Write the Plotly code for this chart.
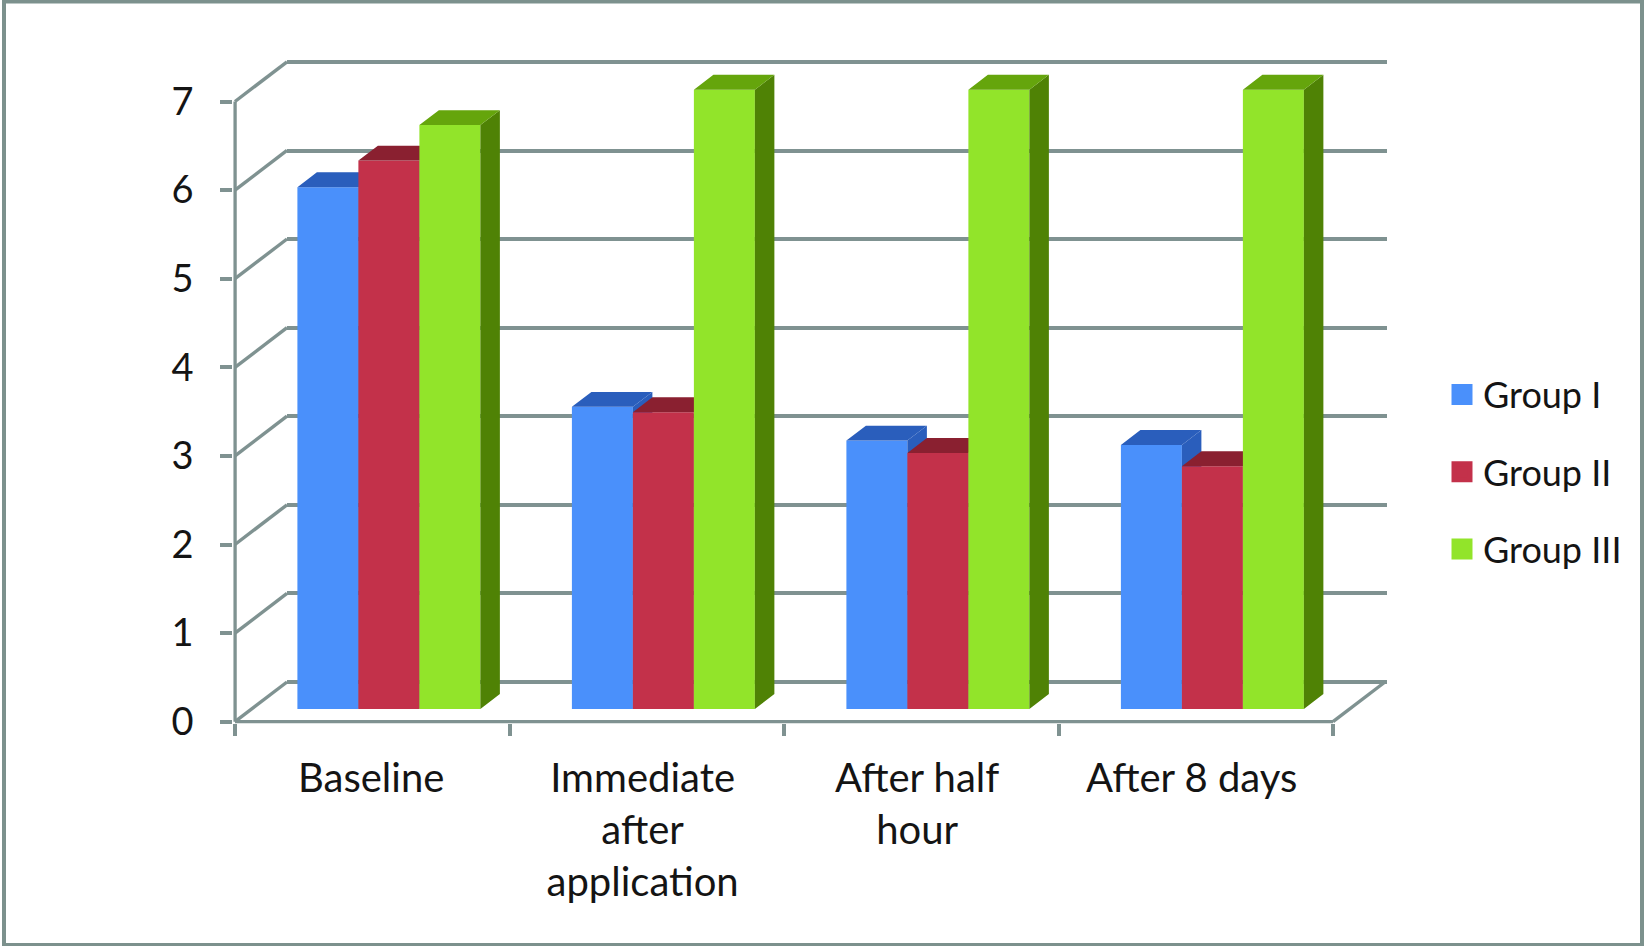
import plotly.graph_objects as go

categories = ["Baseline", "Immediate<br>after<br>application", "After half<br>hour", "After 8 days"]
series_names = ["Group I", "Group II", "Group III"]
group_i = [5.89, 3.41, 3.03, 2.98]
group_ii = [6.19, 3.35, 2.89, 2.74]
group_iii = [6.59, 6.99, 6.99, 6.99]
y_ticks = [0, 1, 2, 3, 4, 5, 6, 7]

front_colors = ["#4a90fb", "#c3314a", "#92e42a"]
top_colors = ["#2a5ebc", "#8a2030", "#65a50c"]
side_colors = ["#2a5ebc", "#8a2030", "#4f8205"]
AXIS = "#7f9291"
TEXT = "#141414"
FONT = "Lato"

W, H = 1644, 946
FX0, FX1, FY0, FY1 = 235, 1333, 721.7, 101.5   # front plane in pixels
BX0, BX1, BY0, BY1 = 287, 1387, 682, 62        # back wall in pixels
UX = (FX1 - FX0) / 4
UY = (FY0 - FY1) / 7
DEPTH_X = (BX0 - FX0) / UX
DEPTH_Y = (FY0 - BY0) / UY
BAR_FRONT = 0.32
BAR_BACK = 0.695
BAR_W = 0.2222

# Front subplot area is wider than the front plane so the depth faces fit inside it
AREA_L, AREA_R, AREA_B, AREA_T = FX0 - 1.75, 1400, FY0 + 1.75, 50
RANGE_X = [(AREA_L - FX0) / UX, (AREA_R - FX0) / UX]
RANGE_Y = [(FY0 - AREA_B) / UY, (FY0 - AREA_T) / UY]
# Back wall area: a little taller than 0..7 so the first and last grid lines show
BACK_B, BACK_T = BY0 + 4, BY1 - 4
BACK_UY = (BY0 - BY1) / 7
BACK_RANGE_Y = [(BY0 - BACK_B) / BACK_UY, (BY0 - BACK_T) / BACK_UY]


def dom_x(a, b):
    return [a / W, b / W]


def dom_y(bottom, top):
    return [1 - bottom / H, 1 - top / H]


fig = go.Figure()

# back wall (native grid lines) - empty trace so the subplot exists
fig.add_trace(go.Scatter(x=[None], y=[None], xaxis="x", yaxis="y", showlegend=False, hoverinfo="skip"))

# side-wall diagonals on the front subplot
dx, dy = [], []
for v in y_ticks:
    dx += [0, DEPTH_X, None]
    dy += [v, v + DEPTH_Y, None]
dx += [4, 4 + DEPTH_X, None]
dy += [0, DEPTH_Y, None]
fig.add_trace(go.Scatter(x=dx, y=dy, mode="lines", line=dict(color=AXIS, width=3.4),
                         xaxis="x2", yaxis="y2", showlegend=False, hoverinfo="skip"))
# front axis lines
fig.add_trace(go.Scatter(x=[0, 4, None, 0, 0], y=[0, 0, None, 0, y_ticks[-1]], mode="lines",
                         line=dict(color=AXIS, width=3.5), xaxis="x2", yaxis="y2",
                         showlegend=False, hoverinfo="skip"))

all_values = [group_i, group_ii, group_iii]
for s, values in enumerate(all_values):
    xa, ya = f"x{s + 3}", f"y{s + 3}"
    base_x = BAR_FRONT * DEPTH_X
    base_y = BAR_FRONT * DEPTH_Y
    run_x = (BAR_BACK - BAR_FRONT) * DEPTH_X
    run_y = (BAR_BACK - BAR_FRONT) * DEPTH_Y
    centers = [i + 0.5 + (s - 1) * BAR_W + base_x for i in range(len(values))]
    fig.add_trace(go.Bar(x=centers, y=values, base=base_y, width=BAR_W, name=series_names[s],
                         marker=dict(color=front_colors[s], line=dict(width=0)),
                         xaxis=xa, yaxis=ya, showlegend=False, hoverinfo="y"))
    tx, ty, sx, sy = [], [], [], []
    for c, v in zip(centers, values):
        l, r = c - BAR_W / 2, c + BAR_W / 2
        top = base_y + v
        tx += [l, r, r + run_x, l + run_x, l, None]
        ty += [top, top, top + run_y, top + run_y, top, None]
        sx += [r, r + run_x, r + run_x, r, r, None]
        sy += [base_y, base_y + run_y, top + run_y, top, base_y, None]
    fig.add_trace(go.Scatter(x=sx, y=sy, mode="lines", fill="toself", fillcolor=side_colors[s],
                             line=dict(width=0, color=side_colors[s]), xaxis=xa, yaxis=ya,
                             showlegend=False, hoverinfo="skip"))
    fig.add_trace(go.Scatter(x=tx, y=ty, mode="lines", fill="toself", fillcolor=top_colors[s],
                             line=dict(width=0, color=top_colors[s]), xaxis=xa, yaxis=ya,
                             showlegend=False, hoverinfo="skip"))
    # legend key
    fig.add_trace(go.Scatter(x=[None], y=[None], mode="markers", name=series_names[s], legendgroup=series_names[s],
                             marker=dict(symbol="square", size=16, color=front_colors[s],
                                         line=dict(width=5, color=front_colors[s])),
                             xaxis=xa, yaxis=ya, showlegend=True, hoverinfo="skip"))

hidden = dict(visible=False, range=RANGE_X, fixedrange=True)
hidden_y = dict(visible=False, range=RANGE_Y, fixedrange=True)
area_x = dom_x(AREA_L, AREA_R)
area_y = dom_y(AREA_B, AREA_T)

fig.update_layout(
    width=W, height=H, margin=dict(l=0, r=0, t=0, b=0, autoexpand=False),
    paper_bgcolor="white", plot_bgcolor="rgba(0,0,0,0)",
    barmode="overlay", font=dict(family=FONT, color=TEXT),
    xaxis=dict(domain=dom_x(BX0, BX1), range=[0, 4], showgrid=False, zeroline=False, showticklabels=False,
               ticks="", showline=False, anchor="y"),
    yaxis=dict(domain=dom_y(BACK_B, BACK_T), range=BACK_RANGE_Y, tickvals=y_ticks, showgrid=True, gridcolor=AXIS,
               gridwidth=3.6, zeroline=False, showticklabels=False, ticks="", showline=False, anchor="x"),
    xaxis2=dict(domain=area_x, range=RANGE_X, tickvals=[0, 1, 2, 3, 4], ticks="outside", ticklen=12,
                tickwidth=3.5, tickcolor=AXIS, showticklabels=False, showline=False,
                showgrid=False, zeroline=False, anchor="y2"),
    yaxis2=dict(domain=area_y, range=RANGE_Y, tickvals=y_ticks, ticks="outside", ticklen=12, tickwidth=3.5,
                tickcolor=AXIS, showline=False, showgrid=False, zeroline=False,
                tickfont=dict(family=FONT, size=38, color=TEXT), ticklabelstandoff=19, anchor="x2"),
    xaxis3=dict(domain=area_x, overlaying="x2", range=RANGE_X, tickvals=[0.496, 1.485, 2.485, 3.485],
                ticktext=categories, ticks="", showline=False, showgrid=False, zeroline=False,
                tickfont=dict(family=FONT, size=40, color=TEXT), ticklabelstandoff=28, anchor="y3", side="bottom"),
    yaxis3=dict(domain=area_y, overlaying="y2", **hidden_y, anchor="x3"),
    xaxis4=dict(domain=area_x, overlaying="x2", **hidden, anchor="y4"),
    yaxis4=dict(domain=area_y, overlaying="y2", **hidden_y, anchor="x4"),
    xaxis5=dict(domain=area_x, overlaying="x2", **hidden, anchor="y5"),
    yaxis5=dict(domain=area_y, overlaying="y2", **hidden_y, anchor="x5"),
    legend=dict(x=1441 / W, xanchor="left", y=1 - 364.5 / H, yanchor="top", font=dict(family=FONT, size=36, color=TEXT),
                tracegroupgap=27.5, itemwidth=32, bgcolor="rgba(0,0,0,0)", traceorder="grouped", itemclick=False,
                itemdoubleclick=False),
    shapes=[dict(type="rect", xref="paper", yref="paper", x0=4 / W, x1=1642 / W, y0=1 - 945 / H, y1=1 - 1.5 / H,
                 line=dict(color="#7c918d", width=4), fillcolor="rgba(0,0,0,0)", layer="below")],
    showlegend=True,
)

fig.write_html("out.html", config=dict(displayModeBar=False), post_script="document.body.style.margin='0';")
